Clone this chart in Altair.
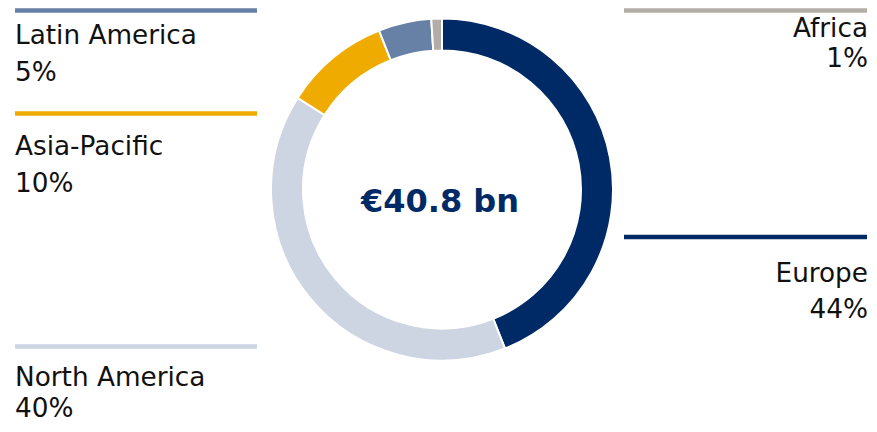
import altair as alt
import pandas as pd

# ---- data ----
regions = ["Europe", "North America", "Asia-Pacific", "Latin America", "Africa"]
shares = [44, 40, 10, 5, 1]
colors = ["#002A66", "#CDD5E3", "#F0AB00", "#6780A6", "#B2ADA6"]
total_label = "€40.8 bn"

# ---- layout (pixels inside the chart) ----
W, H = 861, 416
CX, CY = 434, 181.5
R_OUT, R_IN = 171, 139
LEFT_X1, LEFT_X2 = 7, 249
RIGHT_X1, RIGHT_X2 = 616, 859
layout = {
    "Latin America": dict(side="left", line_y=2.5, y1=36.3, y2=73.0),
    "Asia-Pacific": dict(side="left", line_y=105.5, y1=147.0, y2=183.7),
    "North America": dict(side="left", line_y=338.5, y1=377.5, y2=409.0),
    "Africa": dict(side="right", line_y=2.5, y1=28.7, y2=58.7),
    "Europe": dict(side="right", line_y=229.0, y1=273.7, y2=310.3),
}

df = pd.DataFrame({"region": regions, "share": shares, "idx": range(len(regions))})
df["pct"] = df["share"].astype(str) + "%"
df["side"] = [layout[r]["side"] for r in regions]
df["ly"] = [layout[r]["line_y"] for r in regions]
df["y1"] = [layout[r]["y1"] for r in regions]
df["y2"] = [layout[r]["y2"] for r in regions]
df["lx1"] = [LEFT_X1 if s == "left" else RIGHT_X1 for s in df["side"]]
df["lx2"] = [LEFT_X2 if s == "left" else RIGHT_X2 for s in df["side"]]
df["tx"] = [LEFT_X1 if s == "left" else RIGHT_X2 + 1 for s in df["side"]]

color_scale = alt.Scale(domain=regions, range=colors)
base = alt.Chart(df)

arc = base.mark_arc(outerRadius=R_OUT, innerRadius=R_IN, stroke="white", strokeWidth=2).encode(
    theta=alt.Theta("share:Q", stack=True),
    color=alt.Color("region:N", scale=color_scale, legend=None),
    order=alt.Order("idx:Q"),
    x=alt.value(CX),
    y=alt.value(CY),
)

lines = base.mark_rule(strokeWidth=4.5, strokeCap="butt").encode(
    x=alt.X("lx1:Q", scale=None),
    x2="lx2:Q",
    y=alt.Y("ly:Q", scale=None),
    color=alt.Color("region:N", scale=color_scale, legend=None),
)

text_style = dict(font="DejaVu Sans", fontSize=26.3, color="#111111", baseline="alphabetic")

def text_layer(side, align, field, yfield):
    return base.transform_filter(alt.datum.side == side).mark_text(align=align, **text_style).encode(
        x=alt.X("tx:Q", scale=None),
        y=alt.Y(f"{yfield}:Q", scale=None),
        text=f"{field}:N",
    )

texts = [
    text_layer("left", "left", "region", "y1"),
    text_layer("left", "left", "pct", "y2"),
    text_layer("right", "right", "region", "y1"),
    text_layer("right", "right", "pct", "y2"),
]

center = alt.Chart(pd.DataFrame({"t": [total_label]})).mark_text(
    font="DejaVu Sans", fontWeight="bold", fontSize=32, color="#002A66",
    align="center", baseline="alphabetic",
).encode(text="t:N", x=alt.value(CX - 2), y=alt.value(203.7))

chart = alt.layer(arc, lines, *texts, center).properties(
    width=W, height=H, autosize="none", padding=0
).configure_view(strokeWidth=0)

chart.save("out.html", embed_options={"renderer": "svg", "actions": False})
